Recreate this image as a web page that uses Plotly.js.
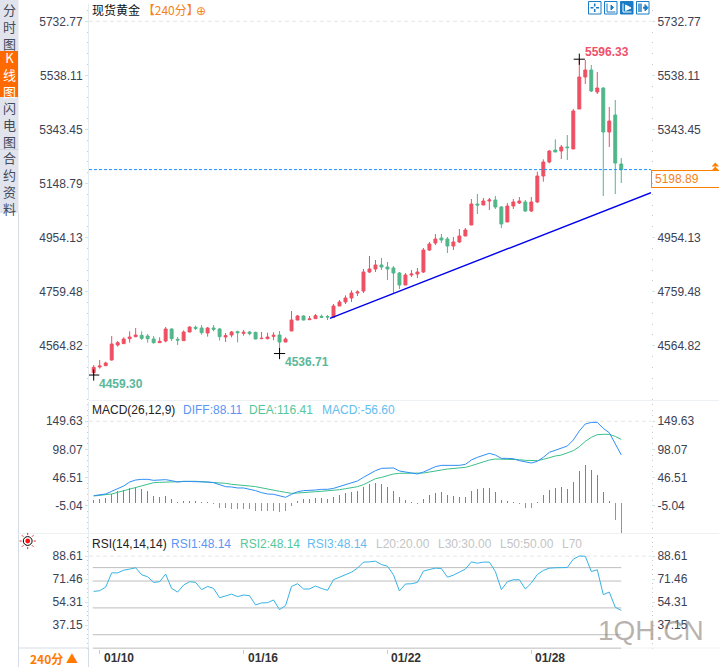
<!DOCTYPE html>
<html><head><meta charset="utf-8">
<script src="https://cdn.plot.ly/plotly-3.0.1.min.js"></script>
<style>html,body{margin:0;padding:0;background:#fff}#c{width:719px;height:667px}</style></head>
<body><div id="c"></div>
<script>
// ---------- candles ----------
const openP=[4467.85,4488.25,4493.05,4513.45,4567.45,4572.25,4590.25,4597.45,4602.25,4599.85,
4589.05,4575.85,4581.85,4625.05,4587.85,4583.05,4614.25,4631.05,4628.65,4610.65,
4628.65,4625.05,4596.25,4603.45,4615.45,4609.45,4614.25,4613.05,4590.25,4590.25,
4598.65,4603.45,4578.25,4617.85,4657.45,4671.85,4658.65,4662.25,4670.65,4669.45,
4667.05,4707.85,4722.25,4736.65,4754.65,4761.85,4830.25,4841.05,4855.45,4848.25,
4844.65,4826.65,4783.45,4819.45,4823.05,4830.25,4909.45,4934.65,4952.65,4949.05,
4923.85,4938.25,4959.85,4999.45,5075.05,5071.45,5085.85,5089.45,5064.25,5010.25,
5067.85,5078.65,5082.25,5049.85,5082.25,5175.85,5226.25,5269.45,5265.85,5280.25,
5273.05,5417.05,5532.25,5557.45,5478.25,5492.65,5334.25,5395.45,5219.05];
const closeP=[4487.05,4491.85,4502.65,4571.05,4575.85,4589.05,4596.25,4603.45,4591.45,4590.25,
4575.85,4580.65,4625.05,4590.25,4585.45,4614.25,4632.25,4627.45,4611.85,4628.65,
4623.85,4597.45,4601.05,4614.25,4611.85,4613.05,4608.25,4589.05,4591.45,4596.25,
4602.25,4578.25,4589.05,4657.45,4671.85,4657.45,4661.05,4673.05,4667.05,4668.25,
4707.85,4722.25,4736.65,4754.65,4758.25,4830.25,4841.05,4855.45,4848.25,4841.05,
4826.65,4783.45,4819.45,4823.05,4830.25,4909.45,4931.05,4949.05,4945.45,4923.85,
4938.25,4959.85,4981.45,5075.05,5071.45,5085.85,5089.45,5064.25,5003.05,5067.85,
5082.25,5085.85,5049.85,5082.25,5175.85,5226.25,5265.85,5262.25,5280.25,5277.85,
5409.85,5532.25,5557.45,5481.85,5492.65,5334.25,5373.85,5222.65,5198.89];
const highP=[4495.45,4513.45,4507.45,4599.85,4581.85,4595.05,4616.65,4628.65,4616.65,4607.05,
4599.85,4595.05,4632.25,4627.45,4596.25,4620.25,4634.65,4637.05,4639.45,4632.25,
4639.45,4628.65,4610.65,4617.85,4619.05,4621.45,4617.85,4615.45,4614.25,4611.85,
4613.05,4617.85,4595.05,4689.85,4675.45,4674.25,4671.85,4679.05,4676.65,4675.45,
4715.05,4729.45,4746.25,4764.25,4764.25,4841.05,4887.85,4873.45,4880.65,4866.25,
4851.85,4830.25,4826.65,4837.45,4844.65,4916.65,4938.25,4967.05,4967.05,4956.25,
4956.25,4985.05,4988.65,5093.05,5111.05,5096.65,5096.65,5103.85,5067.85,5078.65,
5093.05,5100.25,5089.45,5100.25,5191.45,5235.85,5269.45,5307.85,5287.45,5323.45,
5417.05,5596.33,5593.45,5575.45,5550.25,5495.05,5424.25,5449.45,5240.65];
const lowP=[4459.30,4482.25,4491.85,4511.05,4561.45,4571.05,4575.85,4595.05,4585.45,4575.85,
4572.25,4574.65,4577.05,4581.85,4567.45,4581.85,4613.05,4621.45,4604.65,4597.45,
4616.65,4583.05,4578.25,4595.05,4577.05,4601.05,4602.25,4587.85,4589.05,4587.85,
4584.25,4536.71,4577.05,4617.85,4656.25,4656.25,4657.45,4661.05,4664.65,4657.45,
4664.65,4707.85,4715.05,4722.25,4743.85,4754.65,4826.65,4830.25,4837.45,4801.45,
4751.05,4769.05,4783.45,4812.25,4808.65,4826.65,4905.85,4927.45,4934.65,4898.65,
4909.45,4934.65,4959.85,4999.45,5039.05,5071.45,5053.45,5057.05,4988.65,5010.25,
5057.05,5075.05,5046.25,5046.25,5078.65,5155.45,5221.45,5262.25,5237.05,5233.45,
5273.05,5417.05,5507.05,5478.25,5471.05,5103.85,5280.25,5111.05,5150.65];
// ---------- MACD ----------
const macdBar=[4.9,6.7,8.5,17.1,22.0,23.8,28.1,29.9,25.0,21.4,12.8,10.4,12.2,6.7,1.8,3.1,4.3,3.1,1.2,1.2,
-1.8,-8.5,-9.8,-11.0,-11.0,-11.6,-11.6,-14.0,-14.6,-15.3,-15.3,-16.5,-14.6,-6.1,3.1,6.7,6.7,8.5,9.2,7.3,
11.0,14.6,18.3,20.1,21.4,29.3,34.2,36.0,34.2,28.7,22.0,10.4,5.5,1.8,-1.8,6.7,14.0,17.7,19.5,14.0,
12.2,11.0,10.4,21.4,25.0,26.8,26.8,19.5,4.9,3.1,1.2,-1.2,-9.8,-9.8,1.2,14.0,23.2,26.8,28.7,25.0,
37.8,58.0,68.9,59.8,50.6,19.5,3.1,-31.7,-56.60];
const diffLine=[13.4,14.6,16.5,21.4,25.6,31.1,38.4,42.1,43.3,43.3,41.5,42.1,42.7,40.9,38.4,39.7,39.7,39.7,38.4,38.4,
37.2,33.6,29.9,29.3,27.5,27.5,25.6,22.6,18.9,16.5,15.9,12.8,10.4,15.9,20.7,22.6,22.6,23.8,25.0,25.0,
26.8,29.9,32.9,36.0,40.3,47.0,53.1,59.2,63.4,64.1,64.1,58.6,56.7,54.9,53.1,56.7,61.6,66.5,68.9,68.9,
68.9,68.9,70.8,78.7,83.6,86.6,90.9,87.8,81.7,81.7,81.1,77.5,75.0,73.2,76.3,83.6,92.7,97.0,101.3,104.3,
115.3,131.8,144.6,147.6,147.6,136.6,128.7,109.2,88.11];
const deaLine=[12.8,14.0,14.6,16.5,19.5,22.6,25.6,28.7,32.3,35.4,37.2,37.8,38.4,38.4,39.0,39.0,39.7,39.7,39.0,39.0,
38.4,37.2,36.0,34.2,33.6,32.3,31.1,29.9,27.5,25.6,23.8,21.4,19.5,17.7,18.3,19.5,20.1,20.7,21.4,22.0,
23.2,24.4,26.2,27.5,29.9,33.6,39.0,44.5,46.9,50.6,53.1,54.3,54.3,54.3,54.3,54.9,56.7,59.2,60.4,62.2,
63.4,64.7,65.3,68.3,72.0,75.0,78.7,80.5,80.5,80.5,79.9,79.3,78.1,77.5,77.5,79.9,83.6,86.0,87.8,92.1,
95.8,103.1,112.8,120.2,125.1,125.7,125.7,122.0,116.41];
// ---------- RSI ----------
const rsiLine=[62.3,62.8,65.5,76.1,76.1,78.1,78.9,79.9,74.7,73.2,69.0,69.5,75.2,64.5,61.8,67.0,69.5,69.0,63.6,66.0,
64.5,57.6,58.9,60.3,58.4,59.6,59.1,52.2,53.7,53.9,55.9,48.7,51.7,66.0,68.0,64.1,64.1,66.3,64.5,63.1,
71.0,72.7,74.7,76.6,79.6,84.1,84.3,84.8,82.3,81.1,74.7,62.6,67.8,68.0,69.0,77.4,78.6,79.6,79.4,72.9,
74.4,76.4,78.9,84.3,83.3,84.1,84.1,77.1,63.6,69.5,71.0,71.0,64.1,68.5,74.9,77.9,79.6,79.9,79.9,80.1,
86.3,88.7,88.5,77.1,78.4,59.9,61.8,50.5,48.14];
const rsiLevels=[80,70,50,30,20];
// ---------- axes and labels ----------
const dateTickPos=[1,25,49,73];
const dateTickText=['01/10','01/16','01/22','01/28'];
const priceTicks=[5732.77,5538.11,5343.45,5148.79,4954.13,4759.48,4564.82];
const priceTicksRight=[5732.77,5538.11,5343.45,4954.13,4759.48,4564.82];
const macdTicks=[149.63,98.07,46.51,-5.04];
const rsiTicks=[88.61,71.46,54.31,37.15];
const lastPrice=5198.89;
const trendX=[39.4,92.96], trendY=[4663.57,5115.73];
const extremeIdx=[0,31,81], extremeVal=[4459.30,4536.71,5596.33];

const idx=openP.map((_,i)=>i);
const UP='#ee5063',DOWN='#52b68a',LBL='#3a4256';
const xRange=[-0.784,92.96];
const fx=x=>x/719, fy=y=>1-y/667;
const dom=(a,b)=>[fy(b),fy(a)];

const traces=[
 {type:'candlestick',x:idx,open:openP,high:highP,low:lowP,close:closeP,xaxis:'x',yaxis:'y',
  increasing:{line:{color:UP,width:1},fillcolor:UP},decreasing:{line:{color:DOWN,width:1},fillcolor:DOWN},whiskerwidth:0},
 {type:'scatter',mode:'lines',x:xRange,y:[lastPrice,lastPrice],xaxis:'x',yaxis:'y4',line:{color:'#1e90ff',width:1,dash:'3px,2px'}},
 {type:'scatter',mode:'lines',x:trendX,y:trendY,xaxis:'x',yaxis:'y',line:{color:'#0000f0',width:1.4}},
 {type:'scatter',mode:'markers',x:extremeIdx,y:extremeVal,xaxis:'x',yaxis:'y',
  marker:{symbol:'cross-thin',size:8,line:{color:'#000',width:1}}},
 {type:'bar',x:idx,y:macdBar,xaxis:'x2',yaxis:'y2',width:0.18,marker:{color:macdBar.map(v=>v>=0?'#e0566a':'#52b68a'),line:{width:0}}},
 {type:'scatter',mode:'lines',x:idx,y:deaLine,xaxis:'x2',yaxis:'y5',line:{color:'#3cbf8a',width:1}},
 {type:'scatter',mode:'lines',x:idx,y:diffLine,xaxis:'x2',yaxis:'y5',line:{color:'#2f8ef5',width:1}},
];
rsiLevels.forEach(v=>traces.push({type:'scatter',mode:'lines',x:[idx[0]-0.15,idx[idx.length-1]],y:[v,v],xaxis:'x3',yaxis:'y3',line:{color:'#bdbdbd',width:1}}));
traces.push({type:'scatter',mode:'lines',x:idx,y:rsiLine,xaxis:'x3',yaxis:'y6',line:{color:'#38b2e3',width:1}});

const tf={family:'"Liberation Sans",Arial,sans-serif',size:12,color:LBL};
const yBase=(domain,range,ticks,minorStep)=>({domain,range,tickmode:'array',tickvals:ticks,ticktext:ticks.map(v=>v.toFixed(2)),
  tickfont:tf,ticks:'outside',ticklen:3,tickcolor:'#cfe3ea',showgrid:false,zeroline:false,fixedrange:true,
  showline:true,linecolor:'#e4ecf1',linewidth:1,
  minor:{ticks:'outside',ticklen:1,tickcolor:'#c8c8c8',tick0:ticks[0],dtick:minorStep,showgrid:false}});
const yMain=dom(4,400),rMain=[4369.45,5795.05];
const yMacd=dom(402,533),rMacd=[-54.93,184.9];
const yRsi=dom(534,649),rRsi=[19.37,105.07];
const yRight=(over,range,ticks,minorStep)=>Object.assign(yBase(undefined,range,ticks,minorStep),{overlaying:over,side:'right',anchor:over==='y'?'x':(over==='y2'?'x2':'x3'),showline:false});
const xBase={domain:[fx(89),fx(651)],range:xRange,showgrid:false,zeroline:false,showticklabels:false,ticks:'',fixedrange:true,showline:false};

const shapes=[],ann=[];
const rect=(x0,y0,x1,y1,fill,line)=>shapes.push({type:'rect',xref:'paper',yref:'paper',x0:fx(x0),x1:fx(x1),y0:fy(y0),y1:fy(y1),fillcolor:fill||'rgba(0,0,0,0)',line:{color:line||'rgba(0,0,0,0)',width:line?1:0},layer:'above'});
const hline=(x0,x1,y,c)=>shapes.push({type:'line',xref:'paper',yref:'paper',x0:fx(x0),x1:fx(x1),y0:fy(y),y1:fy(y),line:{color:c,width:1},layer:'above'});
const path=(pts,fill,line,w)=>shapes.push({type:'path',xref:'paper',yref:'paper',
  path:pts.map((p,i)=>(p===null?'':((i===0||pts[i-1]===null)?'M':'L')+fx(p[0])+' '+fy(p[1]))).join(' ')+(fill?' Z':''),
  fillcolor:fill||'rgba(0,0,0,0)',line:{color:line||'rgba(0,0,0,0)',width:line?(w||1):0},layer:'above'});
const T=(text,x,y,color,size,opt)=>ann.push(Object.assign({text,xref:'paper',yref:'paper',x:fx(x),y:fy(y),xanchor:'left',yanchor:'middle',showarrow:false,
  font:{family:'"Liberation Sans",Arial,sans-serif',size:size||12,color:color||LBL},borderpad:0},opt||{}));
const CJK='"Noto Sans CJK SC","Liberation Sans",sans-serif';

// top dashed reference lines
[['y',priceTicks[0],'x'],['y2',macdTicks[0],'x2'],['y3',rsiTicks[0],'x3']].forEach(([yr,v,xr])=>shapes.push({type:'line',xref:xr,yref:yr,x0:xRange[0],x1:xRange[1],y0:v,y1:v,line:{color:'#e6e6e6',width:1,dash:'4px,3px'},layer:'below'}));

// sidebar
rect(0,0,18.5,213,'#e1e4ec');
hline(0,18.5,149.5,'#cfd3dc');
rect(0,51,18,97,'#ff6a00');
shapes.push({type:'line',xref:'paper',yref:'paper',x0:fx(18.5),x1:fx(18.5),y0:fy(213),y1:0,line:{color:'#d5dce6',width:1},layer:'above'});
const vert=s=>s.split('').join('<br>');
const side=(s,yc,c)=>ann.push({text:vert(s),xref:'paper',yref:'paper',x:fx(9),y:fy(yc),xanchor:'center',yanchor:'middle',showarrow:false,font:{family:CJK,size:13,color:c},align:'center'});
side('分时图',26,'#444a5a');
side('K线图',74,'#ffffff');
side('闪电图',125,'#444a5a');
side('合约资料',183,'#444a5a');

// panel separators
hline(89,719,400.5,'#edf1f4');
hline(18.5,719,533.5,'#edf1f4');
hline(18.5,89,648,'#d5dce6');
hline(622,719,648,'#edf1f4');
shapes.push({type:'line',xref:'paper',yref:'paper',x0:fx(88.5),x1:fx(88.5),y0:fy(648),y1:0,line:{color:'#d5dce6',width:1},layer:'above'});

// titles and legends
T('<span style="color:#111">现货黄金</span> <span style="color:#f58220">【240分】</span>',91,9.5,'#111',12,{font:{family:CJK,size:12,color:'#111'}});
T('⊕',195,10.5,'#f58220',12,{font:{family:'"DejaVu Sans",sans-serif',size:12,color:'#f58220'}});
T('5596.33',584,51.5,'#f0506a',12,{font:{family:'"Liberation Sans",Arial,sans-serif',size:12,color:'#f0506a',weight:'bold'}});
T('4536.71',284,361.5,'#5ab89a',12,{font:{family:'"Liberation Sans",Arial,sans-serif',size:12,color:'#5ab89a',weight:'bold'}});
T('4459.30',98,383.5,'#5ab89a',12,{font:{family:'"Liberation Sans",Arial,sans-serif',size:12,color:'#5ab89a',weight:'bold'}});
T('MACD(26,12,9)',91,409.5,'#222');
T('DIFF:88.11',182,409.5,'#5a96f5');
T('DEA:116.41',248,409.5,'#56c79a');
T('MACD:-56.60',321,409.5,'#62bdee');
T('RSI(14,14,14)',91,544,'#222');
T('RSI1:48.14',170,544,'#5a96f5');
T('RSI2:48.14',239,544,'#56c79a');
T('RSI3:48.14',306,544,'#62bdee');
T('L20:20.00',375,544,'#c4c4c4');
T('L30:30.00',437,544,'#c4c4c4');
T('L50:50.00',499,544,'#c4c4c4');
T('L70',561,544,'#c4c4c4');
// date-axis labels
dateTickPos.forEach((p,i)=>ann.push({text:dateTickText[i],xref:'x3',yref:'paper',x:p,y:fy(657.5),xanchor:'left',yanchor:'middle',xshift:2,showarrow:false,font:{family:'"Liberation Sans",Arial,sans-serif',size:12,color:'#333',weight:'bold'}}));
// bottom left period
T('240分 ▲',29,658.5,'#ff7a00',12,{font:{family:CJK,size:12,color:'#ff7a00',weight:'bold'}});

// last price box
hline(651,719,170.5,'#ff8000');
hline(651,719,187.5,'#ff8000');
shapes.push({type:'line',xref:'paper',yref:'paper',x0:fx(651.5),x1:fx(651.5),y0:fy(170.5),y1:fy(187.5),line:{color:'#ff8000',width:1},layer:'above'});
T('5198.89',654,179,'#f58220');
path([[715.3,162.5],[719,166.5],[711.6,166.5]],'#ff8000');
path([[715.3,166.5],[719,170.5],[711.6,170.5]],'#ff8000');

// RSI sun icon
const sx=27.7,sy=541;
for(let a=0;a<8;a++){const t=a*Math.PI/4;shapes.push({type:'line',xref:'paper',yref:'paper',x0:fx(sx+6*Math.cos(t)),x1:fx(sx+8.2*Math.cos(t)),y0:fy(sy+6*Math.sin(t)),y1:fy(sy+8.2*Math.sin(t)),line:{color:'#ff2020',width:1},layer:'above'});}
shapes.push({type:'circle',xref:'paper',yref:'paper',x0:fx(sx-4.4),x1:fx(sx+4.4),y0:fy(sy-4.4),y1:fy(sy+4.4),line:{color:'#000',width:1},fillcolor:'#fff',layer:'above'});
shapes.push({type:'circle',xref:'paper',yref:'paper',x0:fx(sx-2.4),x1:fx(sx+2.4),y0:fy(sy-2.4),y1:fy(sy+2.4),line:{width:0},fillcolor:'#ff1010',layer:'above'});

// toolbar icons
const ICON='#1a7cc4';
rect(588.5,1.5,601,14,'#fff',ICON);
rect(604.5,1.5,617,14,'#fff',ICON);
rect(620.5,1.5,633,14,ICON,ICON);
rect(636.5,1.5,649,14,'#fff',ICON);
path([[594.7,3.5],[594.7,6.5],null,[594.7,9],[594.7,12],null,[590.5,7.7],[593.5,7.7],null,[596,7.7],[599,7.7]],null,ICON,1.6);
path([[607,3.5],[607,12],[615.5,12]],null,ICON,1);
path([[611,5],[611,10],[613.5,7.5]],ICON,ICON,1);
path([[623,3.5],[623,12],[631.5,12]],null,'#fff',1);
path([[625.5,5],[625.5,10.5],[631,8]],'#fff','#fff',1);
path([[639,3.5],[639,12],null,[641,3.5],[641,12]],null,ICON,1.4);
path([[643,7.7],[645,7.7]],null,ICON,2);
path([[645,4.5],[648,7.7],[645,11]],ICON,ICON,1);

// watermark
T('1QH.CN',597,630,'rgba(125,112,105,0.55)',28);

const layout={width:719,height:667,margin:{l:0,r:0,t:0,b:0},paper_bgcolor:'#fff',plot_bgcolor:'#fff',showlegend:false,
 boxgap:0.3,bargap:0,barmode:'overlay',hovermode:false,
 xaxis:Object.assign({},xBase,{anchor:'y',rangeslider:{visible:false}}),
 xaxis2:Object.assign({},xBase,{anchor:'y2'}),
 xaxis3:Object.assign({},xBase,{anchor:'y3',ticks:'outside',ticklen:4,tickcolor:'#cccccc',tickvals:dateTickPos,tickmode:'array'}),
 yaxis:yBase(yMain,rMain,priceTicks,38.93),
 yaxis2:yBase(yMacd,rMacd,macdTicks,10.31),
 yaxis3:yBase(yRsi,rRsi,rsiTicks,3.43),
 yaxis4:yRight('y',rMain,priceTicksRight,38.93),
 yaxis5:yRight('y2',rMacd,macdTicks,10.31),
 yaxis6:yRight('y3',rRsi,rsiTicks,3.43),
 shapes,annotations:ann};
Object.assign(layout.yaxis,{anchor:'x'});Object.assign(layout.yaxis2,{anchor:'x2'});Object.assign(layout.yaxis3,{anchor:'x3'});
Plotly.newPlot('c',traces,layout,{displayModeBar:false,staticPlot:true});
</script></body></html>
